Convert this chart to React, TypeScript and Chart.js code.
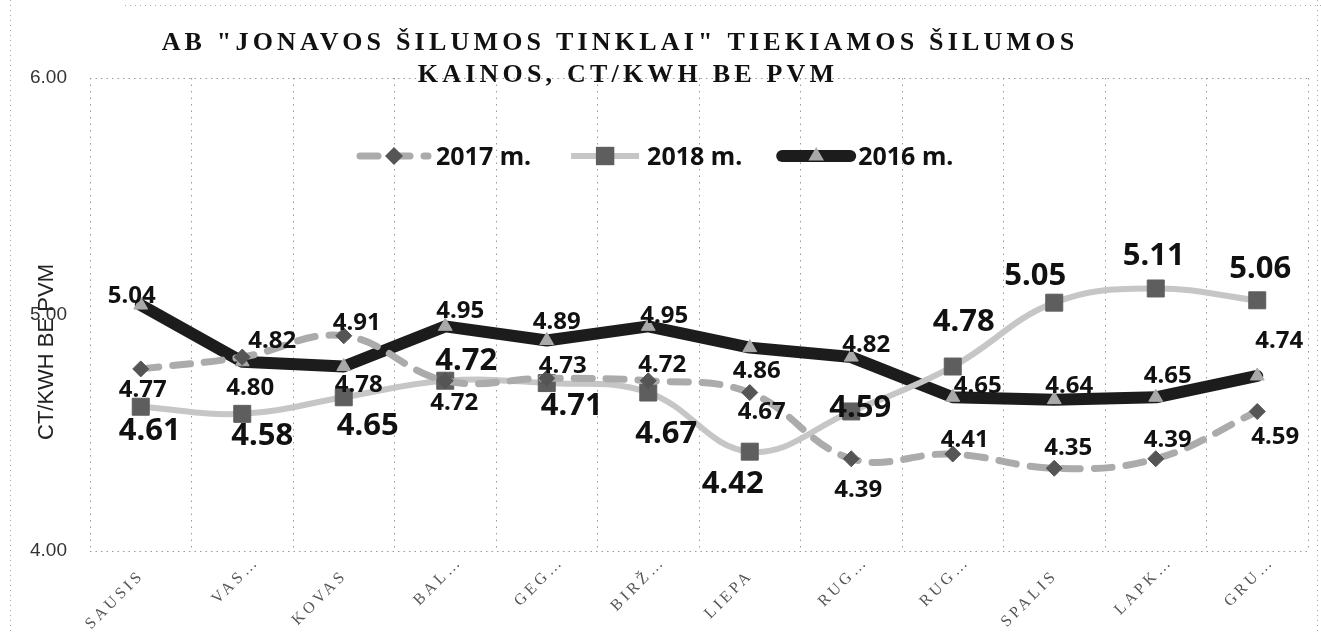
import React, { useEffect, useRef } from 'react';
import { Chart, registerables } from 'chart.js';

Chart.register(...registerables);

// ---- data ----
const months = ['SAUSIS', 'VAS…', 'KOVAS', 'BAL…', 'GEG…', 'BIRŽ…', 'LIEPA', 'RUG…', 'RUG…', 'SPALIS', 'LAPK…', 'GRU…'];
const seriesNames = ['2017 m.', '2018 m.', '2016 m.'];
const values2017 = [4.77, 4.82, 4.91, 4.72, 4.73, 4.72, 4.67, 4.39, 4.41, 4.35, 4.39, 4.59];
const values2018 = [4.61, 4.58, 4.65, 4.72, 4.71, 4.67, 4.42, 4.59, 4.78, 5.05, 5.11, 5.06];
const values2016 = [5.04, 4.80, 4.78, 4.95, 4.89, 4.95, 4.86, 4.82, 4.65, 4.64, 4.65, 4.74];
const yMin = 4;
const yMax = 6;
const yStep = 1;
const titleLines = ['AB "JONAVOS ŠILUMOS TINKLAI" TIEKIAMOS ŠILUMOS', 'KAINOS, CT/KWH BE PVM'];
const yAxisTitle = 'CT/KWH BE PVM';

// ---- label placement (offsets from each point, in px) ----
const labelOffsets2017 = [[2, 28], [30, -9], [13, -6], [9, 29], [16, -5], [14, -9], [12, 26], [7, 38], [12, -7], [14, -13], [12, -12], [18, 33]];
const labelOffsets2018 = [[9, 33], [20, 31], [24, 38], [21, -11], [25, 32], [18, 50], [-17, 41], [9, 6], [11, -36], [-19, -18], [-2, -23], [3, -22]];
const labelOffsets2016 = [[-9, -2], [8, 33], [15, 25], [15, -8], [10, -12], [16, -3], [7, 30], [15, -5], [25, -4], [15, -7], [12, -14], [22, -28]];
const labelSizes = [24, 31, 24];

function drawMarker(ctx: CanvasRenderingContext2D, style: string, x: number, y: number, r: number, color: string) {
  ctx.save();
  ctx.fillStyle = color;
  ctx.beginPath();
  if (style === 'rectRot') {
    ctx.moveTo(x - r, y);
    ctx.lineTo(x, y - r);
    ctx.lineTo(x + r, y);
    ctx.lineTo(x, y + r);
    ctx.closePath();
  } else if (style === 'rect') {
    const s = r * Math.SQRT1_2;
    ctx.rect(x - s, y - s, 2 * s, 2 * s);
  } else {
    for (let k = 0; k < 3; k++) {
      const a = (k * 2 * Math.PI) / 3;
      const px = x + Math.sin(a) * r;
      const py = y - Math.cos(a) * r;
      if (k === 0) ctx.moveTo(px, py);
      else ctx.lineTo(px, py);
    }
    ctx.closePath();
  }
  ctx.fill();
  ctx.restore();
}

const decorPlugin = {
  id: 'decor',
  beforeDraw(chart: any) {
    const ctx: CanvasRenderingContext2D = chart.ctx;
    ctx.save();
    ctx.fillStyle = '#ffffff';
    ctx.fillRect(0, 0, chart.width, chart.height);
    // page border dotted lines of the scanned document
    ctx.strokeStyle = '#aaaaaa';
    ctx.lineWidth = 1;
    ctx.setLineDash([1, 4]);
    ctx.beginPath();
    ctx.moveTo(10.5, 0);
    ctx.lineTo(10.5, chart.height);
    ctx.moveTo(125, 5.5);
    ctx.lineTo(chart.width, 5.5);
    ctx.moveTo(1317.5, 0);
    ctx.lineTo(1317.5, chart.height);
    ctx.stroke();
    ctx.restore();

    // y-axis title (drawn under tick labels)
    ctx.save();
    ctx.translate(47, 352);
    ctx.rotate(-Math.PI / 2);
    ctx.font = '22px "Liberation Sans"';
    ctx.fillStyle = '#222';
    ctx.textAlign = 'center';
    ctx.textBaseline = 'middle';
    ctx.fillText(yAxisTitle, 0, 0);
    ctx.restore();
  },
  afterDatasetsDraw(chart: any) {
    const ctx: CanvasRenderingContext2D = chart.ctx;
    const offsets = [labelOffsets2017, labelOffsets2018, labelOffsets2016];
    chart.data.datasets.forEach((ds: any, di: number) => {
      const meta = chart.getDatasetMeta(di);
      ctx.save();
      ctx.font = `bold ${labelSizes[di]}px "Noto Sans"`;
      ctx.fillStyle = '#111';
      ctx.textAlign = 'center';
      ctx.textBaseline = 'alphabetic';
      meta.data.forEach((pt: any, i: number) => {
        const [dx, dy] = offsets[di][i];
        ctx.fillText(Number(ds.data[i]).toFixed(2), pt.x + dx, pt.y + dy);
      });
      ctx.restore();
    });
  },
  afterDraw(chart: any) {
    const ctx: CanvasRenderingContext2D = chart.ctx;
    const area = chart.chartArea;

    // title
    ctx.save();
    ctx.font = 'bold 26px "Liberation Serif"';
    ctx.fillStyle = '#111';
    ctx.textAlign = 'center';
    ctx.textBaseline = 'alphabetic';
    (ctx as any).letterSpacing = '4.2px';
    ctx.fillText(titleLines[0], 620, 50);
    ctx.fillText(titleLines[1], 628, 82);
    ctx.restore();

    // legend (inside plot)
    ctx.save();
    let lx = 356;
    const ly = 156;
    ctx.font = 'bold 25px "Noto Sans"';
    ctx.textBaseline = 'alphabetic';
    ctx.textAlign = 'left';
    chart.data.datasets.forEach((ds: any) => {
      ctx.save();
      ctx.strokeStyle = ds.borderColor;
      ctx.lineWidth = ds.borderWidth;
      ctx.lineCap = ds.borderCapStyle || 'butt';
      ctx.setLineDash(ds.borderDash || []);
      ctx.beginPath();
      ctx.moveTo(lx + 4, ly);
      ctx.lineTo(lx + 72, ly);
      ctx.stroke();
      ctx.restore();
      drawMarker(ctx, ds.pointStyle, lx + 38, ly, ds.pointRadius + 1, ds.pointBackgroundColor);
      ctx.fillStyle = '#111';
      ctx.fillText(ds.label, lx + 80, ly + 9);
      lx += 80 + ctx.measureText(ds.label).width + 36;
    });
    ctx.restore();

    // x-axis labels, rotated 45°
    const xs = chart.scales.x;
    ctx.save();
    ctx.font = '16px "Liberation Serif"';
    ctx.fillStyle = '#555';
    (ctx as any).letterSpacing = '3.5px';
    months.forEach((m, i) => {
      const x = xs.getPixelForTick(i);
      const hasEll = m.endsWith('…');
      const main = hasEll ? m.slice(0, -1) : m;
      ctx.save();
      ctx.translate(x + 1, area.bottom + 22);
      ctx.rotate(-Math.PI / 4);
      ctx.textBaseline = 'middle';
      ctx.textAlign = 'right';
      ctx.fillText(main, 0, 0);
      if (hasEll) {
        ctx.textAlign = 'left';
        ctx.fillText('…', 0, 0);
      }
      ctx.restore();
    });
    ctx.restore();
  },
};

export default function App() {
  const canvasRef = useRef<HTMLCanvasElement | null>(null);

  useEffect(() => {
    document.body.style.margin = '0';
    const canvas = canvasRef.current;
    if (!canvas) return;
    const chart = new Chart(canvas, {
      type: 'line',
      data: {
        labels: months,
        datasets: [
          {
            label: seriesNames[0],
            data: values2017,
            borderColor: '#ababab',
            borderWidth: 7,
            borderDash: [18, 14],
            borderCapStyle: 'round',
            tension: 0.4,
            pointStyle: 'rectRot',
            pointRadius: 8,
            pointBackgroundColor: '#555555',
            pointBorderColor: '#555555',
            pointBorderWidth: 1,
            fill: false,
          },
          {
            label: seriesNames[1],
            data: values2018,
            borderColor: '#c6c6c6',
            borderWidth: 6,
            tension: 0.4,
            pointStyle: 'rect',
            pointRadius: 12,
            pointBackgroundColor: '#5e5e5e',
            pointBorderColor: '#5e5e5e',
            pointBorderWidth: 1,
            fill: false,
          },
          {
            label: seriesNames[2],
            data: values2016,
            borderColor: '#1c1c1c',
            borderWidth: 12,
            borderCapStyle: 'round',
            borderJoinStyle: 'round',
            tension: 0,
            pointStyle: 'triangle',
            pointRadius: 8,
            pointBackgroundColor: '#a9a9a9',
            pointBorderColor: '#a9a9a9',
            pointBorderWidth: 1,
            fill: false,
          },
        ],
      },
      options: {
        responsive: false,
        animation: false,
        layout: { autoPadding: false, padding: { top: 78, right: 13, bottom: 0, left: 0 } },
        plugins: {
          legend: { display: false },
          title: { display: false },
          tooltip: { enabled: false },
        },
        scales: {
          x: {
            type: 'category',
            offset: true,
            grid: { offset: true, color: '#9a9a9a', lineWidth: 1, drawTicks: false },
            border: { display: false, dash: [1.5, 5] },
            ticks: { display: false },
            afterFit: (s: any) => {
              s.height = 82;
            },
          },
          y: {
            min: yMin,
            max: yMax,
            grid: {
              drawTicks: false,
              lineWidth: 1,
              color: (c: any) => (c.tick && c.tick.value === 5 ? 'rgba(0,0,0,0)' : '#9a9a9a'),
            },
            border: { display: false, dash: [1.5, 4] },
            ticks: {
              stepSize: yStep,
              padding: 23,
              color: '#333',
              font: { family: '"Liberation Sans"', size: 19 },
              callback: (v: any) => Number(v).toFixed(2),
            },
            afterFit: (s: any) => {
              s.width = 90;
            },
          },
        },
      },
      plugins: [decorPlugin],
    } as any);
    return () => chart.destroy();
  }, []);

  return (
    <div style={{ width: 1321, height: 633 }}>
      <canvas ref={canvasRef} width={1321} height={633} style={{ display: 'block' }} />
    </div>
  );
}
